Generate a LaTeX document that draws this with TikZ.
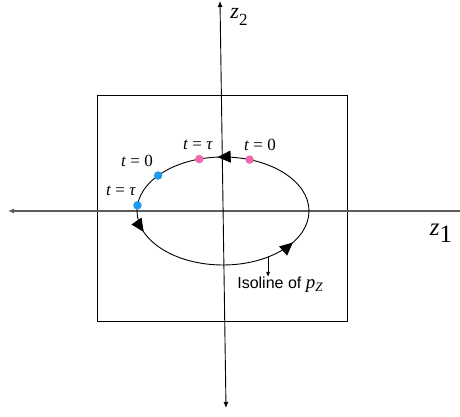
\documentclass[tikz,border=0pt]{standalone}
\usepackage{fontspec}
\setmainfont{Liberation Serif}
\newfontfamily\isofont{Liberation Sans}
\usetikzlibrary{arrows.meta,positioning,calc,decorations.markings}
\definecolor{DotBlue}{HTML}{1E9BF0}
\definecolor{DotPink}{HTML}{EE68AC}
\definecolor{AxisGray}{HTML}{5C5C5C}
\newcommand{\lowsub}[3]{\raisebox{-#3}{\fontsize{#1}{#1}\selectfont #2}}
\tikzset{
  axis/.style={draw=AxisGray,line width=1.1pt},
  vaxis/.style={draw=black,line width=0.9pt},
  tip/.style={-{Latex[length=6pt,width=5pt]}},
  frame/.style={draw=black,line width=0.8pt},
  orbit/.style={draw=black,line width=0.9pt,postaction={decorate},
    decoration={markings,
      mark=at position 0.262 with {\arrow{Triangle[length=13pt,width=12pt]}},
      mark=at position 0.55 with {\arrow{Triangle[length=13pt,width=12pt]}},
      mark=at position 0.918 with {\arrow{Triangle[length=13pt,width=12pt]}}}},
  tdot/.style={circle,inner sep=0pt,minimum size=8.5pt},
  tlabel/.style={font=\fontsize{17}{20}\selectfont,inner sep=0pt},
  isolabel/.style={font=\isofont\fontsize{16}{19}\selectfont,inner sep=0pt},
  pointer/.style={-{Latex[length=5pt,width=4pt]},draw=black,line width=0.7pt}
}

\begin{document}
\begin{tikzpicture}[x=1pt,y=1pt]
  \useasboundingbox (0,0) rectangle (460,417);
  % frame and axes
  \draw[frame] (97,96) rectangle (347,322);
  \coordinate (xright) at (460,206);
  \coordinate (xleft) at (8,206);
  \coordinate (ybot) at (226,9);
  \coordinate (ytop) at (220,416);
  \draw[axis,tip] (xright) -- (xleft);
  \draw[vaxis,{Latex[length=6pt,width=5pt]}-{Latex[length=6pt,width=5pt]}] (ybot) -- (ytop);
  \node[font=\fontsize{25}{26}\selectfont,inner sep=0pt] (z1) at (441,184) {\textit{z}\lowsub{25}{1}{7pt}};
  \node[font=\fontsize{22}{24}\selectfont,inner sep=0pt] (z2) at (239,400) {\textit{z}\lowsub{17}{2}{7pt}};

  % isoline
  \coordinate (ctr) at (223,206);
  \draw[orbit] (ctr) ellipse [x radius=86pt, y radius=54pt];

  % start and end points
  \node[tdot,fill=DotBlue] (blueend) at ($(ctr)+(174:86 and 54)$) {};
  \node[tdot,fill=DotBlue] (bluestart) at ($(ctr)+(139:86 and 54)$) {};
  \node[tdot,fill=DotPink] (pinkend) at ($(ctr)+(106:86 and 54)$) {};
  \node[tdot,fill=DotPink] (pinkstart) at ($(ctr)+(72:86 and 54)$) {};
  \node[tlabel] (lblueend) at (121,226) {\textit{t} = \textit{τ}};
  \node[tlabel] (lbluestart) at (137,256) {\textit{t} = 0};
  \node[tlabel] (lpinkend) at (198,272) {\textit{t} = \textit{τ}};
  \node[tlabel] (lpinkstart) at (260,272) {\textit{t} = 0};

  \coordinate (iso) at ($(ctr)+(-58.4:86 and 54)$);
  \node[isolabel] (isolbl) at (280,132) {Isoline of \fontsize{19}{20}\selectfont\rmfamily\textit{p}\lowsub{13}{\textit{Z}}{3pt}};
  \draw[pointer] (iso) -- (iso |- isolbl.north);
\end{tikzpicture}
\end{document}
